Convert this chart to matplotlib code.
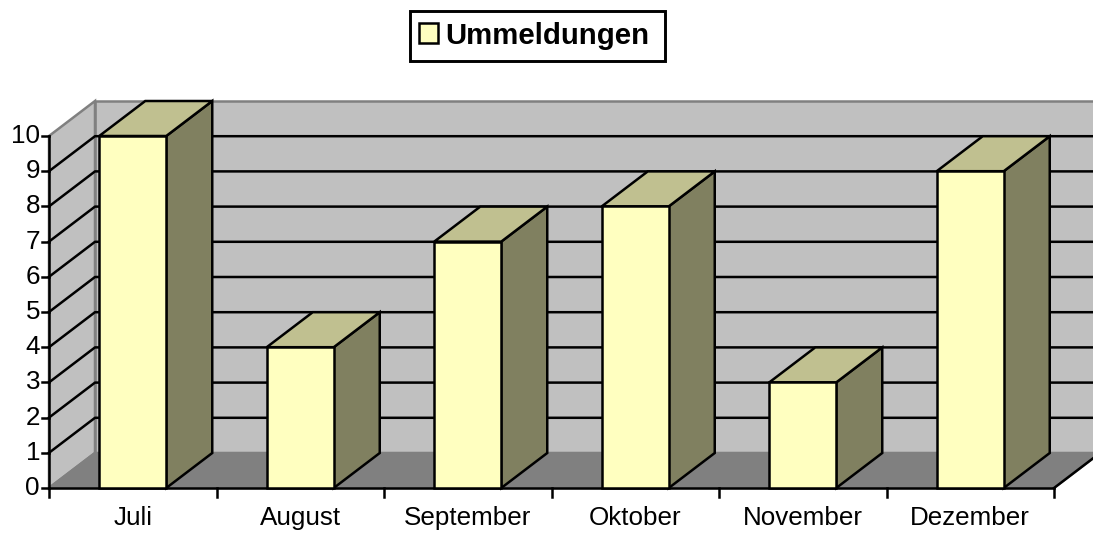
import numpy as np
import matplotlib.pyplot as plt
from matplotlib.patches import Polygon, Patch, Rectangle

plt.rcParams['font.family'] = ['Liberation Sans', 'DejaVu Sans']

# Data
months = ["Juli", "August", "September", "Oktober", "November", "Dezember"]
ummeldungen = [10, 4, 7, 8, 3, 9]
y_ticks = list(range(0, 11))

W, H = 1093, 535
px_x = 167.5  # pixels per category
px_y = 35.2  # pixels per unit
x0, y0 = 49, 488  # pixel position of the data origin
dx = 46 / px_x  # 3d depth, in data units
dy = 35 / px_y
bar_w = 0.4

fig = plt.figure(figsize=(W / 100, H / 100), dpi=100)
ax = fig.add_axes([0, 0, 1, 1])
ax.set_xlim(-x0 / px_x, (W - x0) / px_x)
ax.set_ylim(-(H - y0) / px_y, y0 / px_y)
ax.axis("off")

n = len(months)
ymax = y_ticks[-1]
lw = 1.8
gray = "#808080"


def face(pts, color, edge="black", z=1, width=lw):
    ax.add_patch(Polygon(pts, closed=True, facecolor=color, edgecolor=edge, linewidth=width,
                         zorder=z, joinstyle="miter", clip_on=True))


# walls and floor
face([(dx, dy), (n + dx, dy), (n + dx, ymax + dy), (dx, ymax + dy)], "#C0C0C0", gray, 1)
face([(0, 0), (dx, dy), (dx, ymax + dy), (0, ymax)], "#C0C0C0", gray, 1)
face([(0, 0), (n, 0), (n + dx, dy), (dx, dy)], gray, gray, 1)

# gridlines on side wall and back wall
for v in y_ticks[1:-1]:
    ax.plot([0, dx, n + dx], [v, v + dy, v + dy], color="black", lw=lw, zorder=2)

# floor edge, axes and ticks
ax.plot([n, n + dx], [0, dy], color="black", lw=lw, zorder=2)
ax.plot([0, 0], [0, ymax], color="black", lw=lw, zorder=3)
ax.plot([0, n], [0, 0], color="black", lw=lw, zorder=3)
for v in y_ticks:
    ax.plot([-7 / px_x, 0], [v, v], color="black", lw=lw, zorder=3)
    ax.text(-9 / px_x, v, str(v), ha="right", va="center", fontsize=18.7, color="black")
for i in range(n + 1):
    ax.plot([i, i], [0, -9 / px_y], color="black", lw=lw, zorder=3)

# bars
for i, v in enumerate(ummeldungen):
    l = i + 0.5 - bar_w / 2
    r = i + 0.5 + bar_w / 2
    face([(r, 0), (r + dx, dy), (r + dx, v + dy), (r, v)], "#808060", z=4)
    face([(l, v), (r, v), (r + dx, v + dy), (l + dx, v + dy)], "#C0C090", z=4)
    face([(l, 0), (r, 0), (r, v), (l, v)], "#FFFFC0", z=5)
    ax.text(i + 0.5, -37 / px_y, months[i], ha="center", va="baseline", fontsize=18.7, color="black")

# legend, the frame is drawn apart because the text sits off centre in it
fig.add_artist(Rectangle((409.5 / W, 1 - 61 / H), 255.5 / W, 50 / H, transform=fig.transFigure,
                         facecolor="white", edgecolor="black", linewidth=lw + 0.3))
leg = fig.legend(handles=[Patch(facecolor="#FFFFC0", edgecolor="black", linewidth=lw, label="Ummeldungen")],
                 loc="center", bbox_to_anchor=(534 / W, 1 - 35.5 / H),
                 prop={"weight": "bold", "size": 21.2}, frameon=False,
                 handlelength=0.65, handleheight=0.65, handletextpad=0.25,
                 borderpad=0, borderaxespad=0)

fig.savefig("out.png", dpi=100)
